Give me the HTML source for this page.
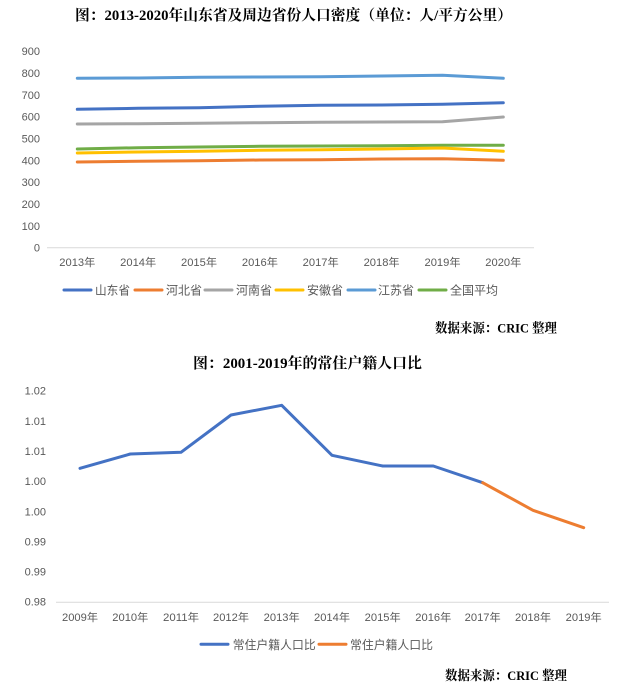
<!DOCTYPE html>
<html><head><meta charset="utf-8"><style>
html,body{margin:0;padding:0;background:#fff;}
svg{display:block;}
.t{font-family:"Liberation Serif","Noto Serif CJK SC",serif;font-weight:bold;fill:#000;}
.a{font-family:"Liberation Sans","Noto Sans CJK SC",sans-serif;font-size:11px;fill:#595959;}
.l{font-family:"Liberation Sans","Noto Sans CJK SC",sans-serif;font-size:12px;fill:#595959;}
</style></head><body>
<svg width="624" height="697" viewBox="0 0 624 697" xmlns="http://www.w3.org/2000/svg">
<rect width="624" height="697" fill="#fff"/>
<!-- Top chart -->
<text class="t" x="75" y="20" font-size="14.6" textLength="437" lengthAdjust="spacingAndGlyphs">图：2013-2020年山东省及周边省份人口密度（单位：人/平方公里）</text>
<g class="a" text-anchor="end">
<text x="40" y="55">900</text>
<text x="40" y="77">800</text>
<text x="40" y="99">700</text>
<text x="40" y="120.5">600</text>
<text x="40" y="142.5">500</text>
<text x="40" y="164.5">400</text>
<text x="40" y="186">300</text>
<text x="40" y="208">200</text>
<text x="40" y="230">100</text>
<text x="40" y="251.5">0</text>
</g>
<line x1="47" y1="247.7" x2="534" y2="247.7" stroke="#d9d9d9" stroke-width="1"/>
<g fill="none" stroke-width="3" stroke-linejoin="round" stroke-linecap="round">
<polyline stroke="#5B9BD5" points="77.3,78.3 138.2,78 199,77.3 259.9,77 320.7,76.7 381.6,76 442.5,75.3 503.3,78.3"/>
<polyline stroke="#4472C4" points="77.3,109.3 138.2,108.3 199,107.7 259.9,106.3 320.7,105.3 381.6,105 442.5,104.3 503.3,102.7"/>
<polyline stroke="#A5A5A5" points="77.3,124 138.2,123.7 199,123.3 259.9,122.7 320.7,122.3 381.6,122 442.5,121.7 503.3,117"/>
<polyline stroke="#70AD47" points="77.3,149 138.2,147.7 199,147 259.9,146.3 320.7,146 381.6,145.7 442.5,145.3 503.3,145.3"/>
<polyline stroke="#FFC000" points="77.3,153 138.2,152 199,151.3 259.9,150.3 320.7,149.7 381.6,149 442.5,148 503.3,151.3"/>
<polyline stroke="#ED7D31" points="77.3,162 138.2,161.3 199,160.7 259.9,160 320.7,159.7 381.6,159 442.5,158.7 503.3,160.3"/>
</g>
<g class="a" text-anchor="middle">
<text x="77.3" y="266" textLength="36" lengthAdjust="spacingAndGlyphs">2013年</text>
<text x="138.2" y="266" textLength="36" lengthAdjust="spacingAndGlyphs">2014年</text>
<text x="199" y="266" textLength="36" lengthAdjust="spacingAndGlyphs">2015年</text>
<text x="259.9" y="266" textLength="36" lengthAdjust="spacingAndGlyphs">2016年</text>
<text x="320.7" y="266" textLength="36" lengthAdjust="spacingAndGlyphs">2017年</text>
<text x="381.6" y="266" textLength="36" lengthAdjust="spacingAndGlyphs">2018年</text>
<text x="442.5" y="266" textLength="36" lengthAdjust="spacingAndGlyphs">2019年</text>
<text x="503.3" y="266" textLength="36" lengthAdjust="spacingAndGlyphs">2020年</text>
</g>
<g stroke-width="3" stroke-linecap="round">
<line x1="64" y1="290" x2="91" y2="290" stroke="#4472C4"/>
<line x1="135" y1="290" x2="162" y2="290" stroke="#ED7D31"/>
<line x1="205" y1="290" x2="232" y2="290" stroke="#A5A5A5"/>
<line x1="276" y1="290" x2="303" y2="290" stroke="#FFC000"/>
<line x1="348" y1="290" x2="375" y2="290" stroke="#5B9BD5"/>
<line x1="419" y1="290" x2="446" y2="290" stroke="#70AD47"/>
</g>
<g class="l">
<text x="95" y="294.5" textLength="35" lengthAdjust="spacingAndGlyphs">山东省</text>
<text x="166" y="294.5" textLength="36" lengthAdjust="spacingAndGlyphs">河北省</text>
<text x="236" y="294.5" textLength="36" lengthAdjust="spacingAndGlyphs">河南省</text>
<text x="307" y="294.5" textLength="36" lengthAdjust="spacingAndGlyphs">安徽省</text>
<text x="378" y="294.5" textLength="36" lengthAdjust="spacingAndGlyphs">江苏省</text>
<text x="450" y="294.5" textLength="48" lengthAdjust="spacingAndGlyphs">全国平均</text>
</g>
<text class="t" x="435" y="332.5" font-size="13" textLength="122" lengthAdjust="spacingAndGlyphs">数据来源：CRIC 整理</text>

<!-- Bottom chart -->
<text class="t" x="193" y="368" font-size="14.6" textLength="229" lengthAdjust="spacingAndGlyphs">图：2001-2019年的常住户籍人口比</text>
<g class="a" text-anchor="end">
<text x="46" y="394.7">1.02</text>
<text x="46" y="424.9">1.01</text>
<text x="46" y="455">1.01</text>
<text x="46" y="485.1">1.00</text>
<text x="46" y="515.3">1.00</text>
<text x="46" y="545.4">0.99</text>
<text x="46" y="575.6">0.99</text>
<text x="46" y="605.7">0.98</text>
</g>
<line x1="56" y1="602.3" x2="609" y2="602.3" stroke="#d9d9d9" stroke-width="1"/>
<g fill="none" stroke-width="3" stroke-linejoin="round" stroke-linecap="round">
<polyline stroke="#4472C4" points="80,468.3 130.3,454 181,452.3 231,415 281.7,405.3 332,455.3 382.7,466 433.3,466 482.7,482.7"/>
<polyline stroke="#ED7D31" points="482.7,482.7 533,510.3 583.7,527.7"/>
</g>
<g class="a" text-anchor="middle">
<text x="80" y="621" textLength="36" lengthAdjust="spacingAndGlyphs">2009年</text>
<text x="130.3" y="621" textLength="36" lengthAdjust="spacingAndGlyphs">2010年</text>
<text x="181" y="621" textLength="36" lengthAdjust="spacingAndGlyphs">2011年</text>
<text x="231" y="621" textLength="36" lengthAdjust="spacingAndGlyphs">2012年</text>
<text x="281.7" y="621" textLength="36" lengthAdjust="spacingAndGlyphs">2013年</text>
<text x="332" y="621" textLength="36" lengthAdjust="spacingAndGlyphs">2014年</text>
<text x="382.7" y="621" textLength="36" lengthAdjust="spacingAndGlyphs">2015年</text>
<text x="433.3" y="621" textLength="36" lengthAdjust="spacingAndGlyphs">2016年</text>
<text x="482.7" y="621" textLength="36" lengthAdjust="spacingAndGlyphs">2017年</text>
<text x="533" y="621" textLength="36" lengthAdjust="spacingAndGlyphs">2018年</text>
<text x="583.7" y="621" textLength="36" lengthAdjust="spacingAndGlyphs">2019年</text>
</g>
<g stroke-width="3" stroke-linecap="round">
<line x1="201" y1="644.3" x2="228" y2="644.3" stroke="#4472C4"/>
<line x1="319" y1="644.3" x2="346" y2="644.3" stroke="#ED7D31"/>
</g>
<g class="l">
<text x="232.7" y="648.8" textLength="83" lengthAdjust="spacingAndGlyphs">常住户籍人口比</text>
<text x="350" y="648.8" textLength="83" lengthAdjust="spacingAndGlyphs">常住户籍人口比</text>
</g>
<text class="t" x="445" y="680.2" font-size="13" textLength="122" lengthAdjust="spacingAndGlyphs">数据来源：CRIC 整理</text>
</svg>
</body></html>
